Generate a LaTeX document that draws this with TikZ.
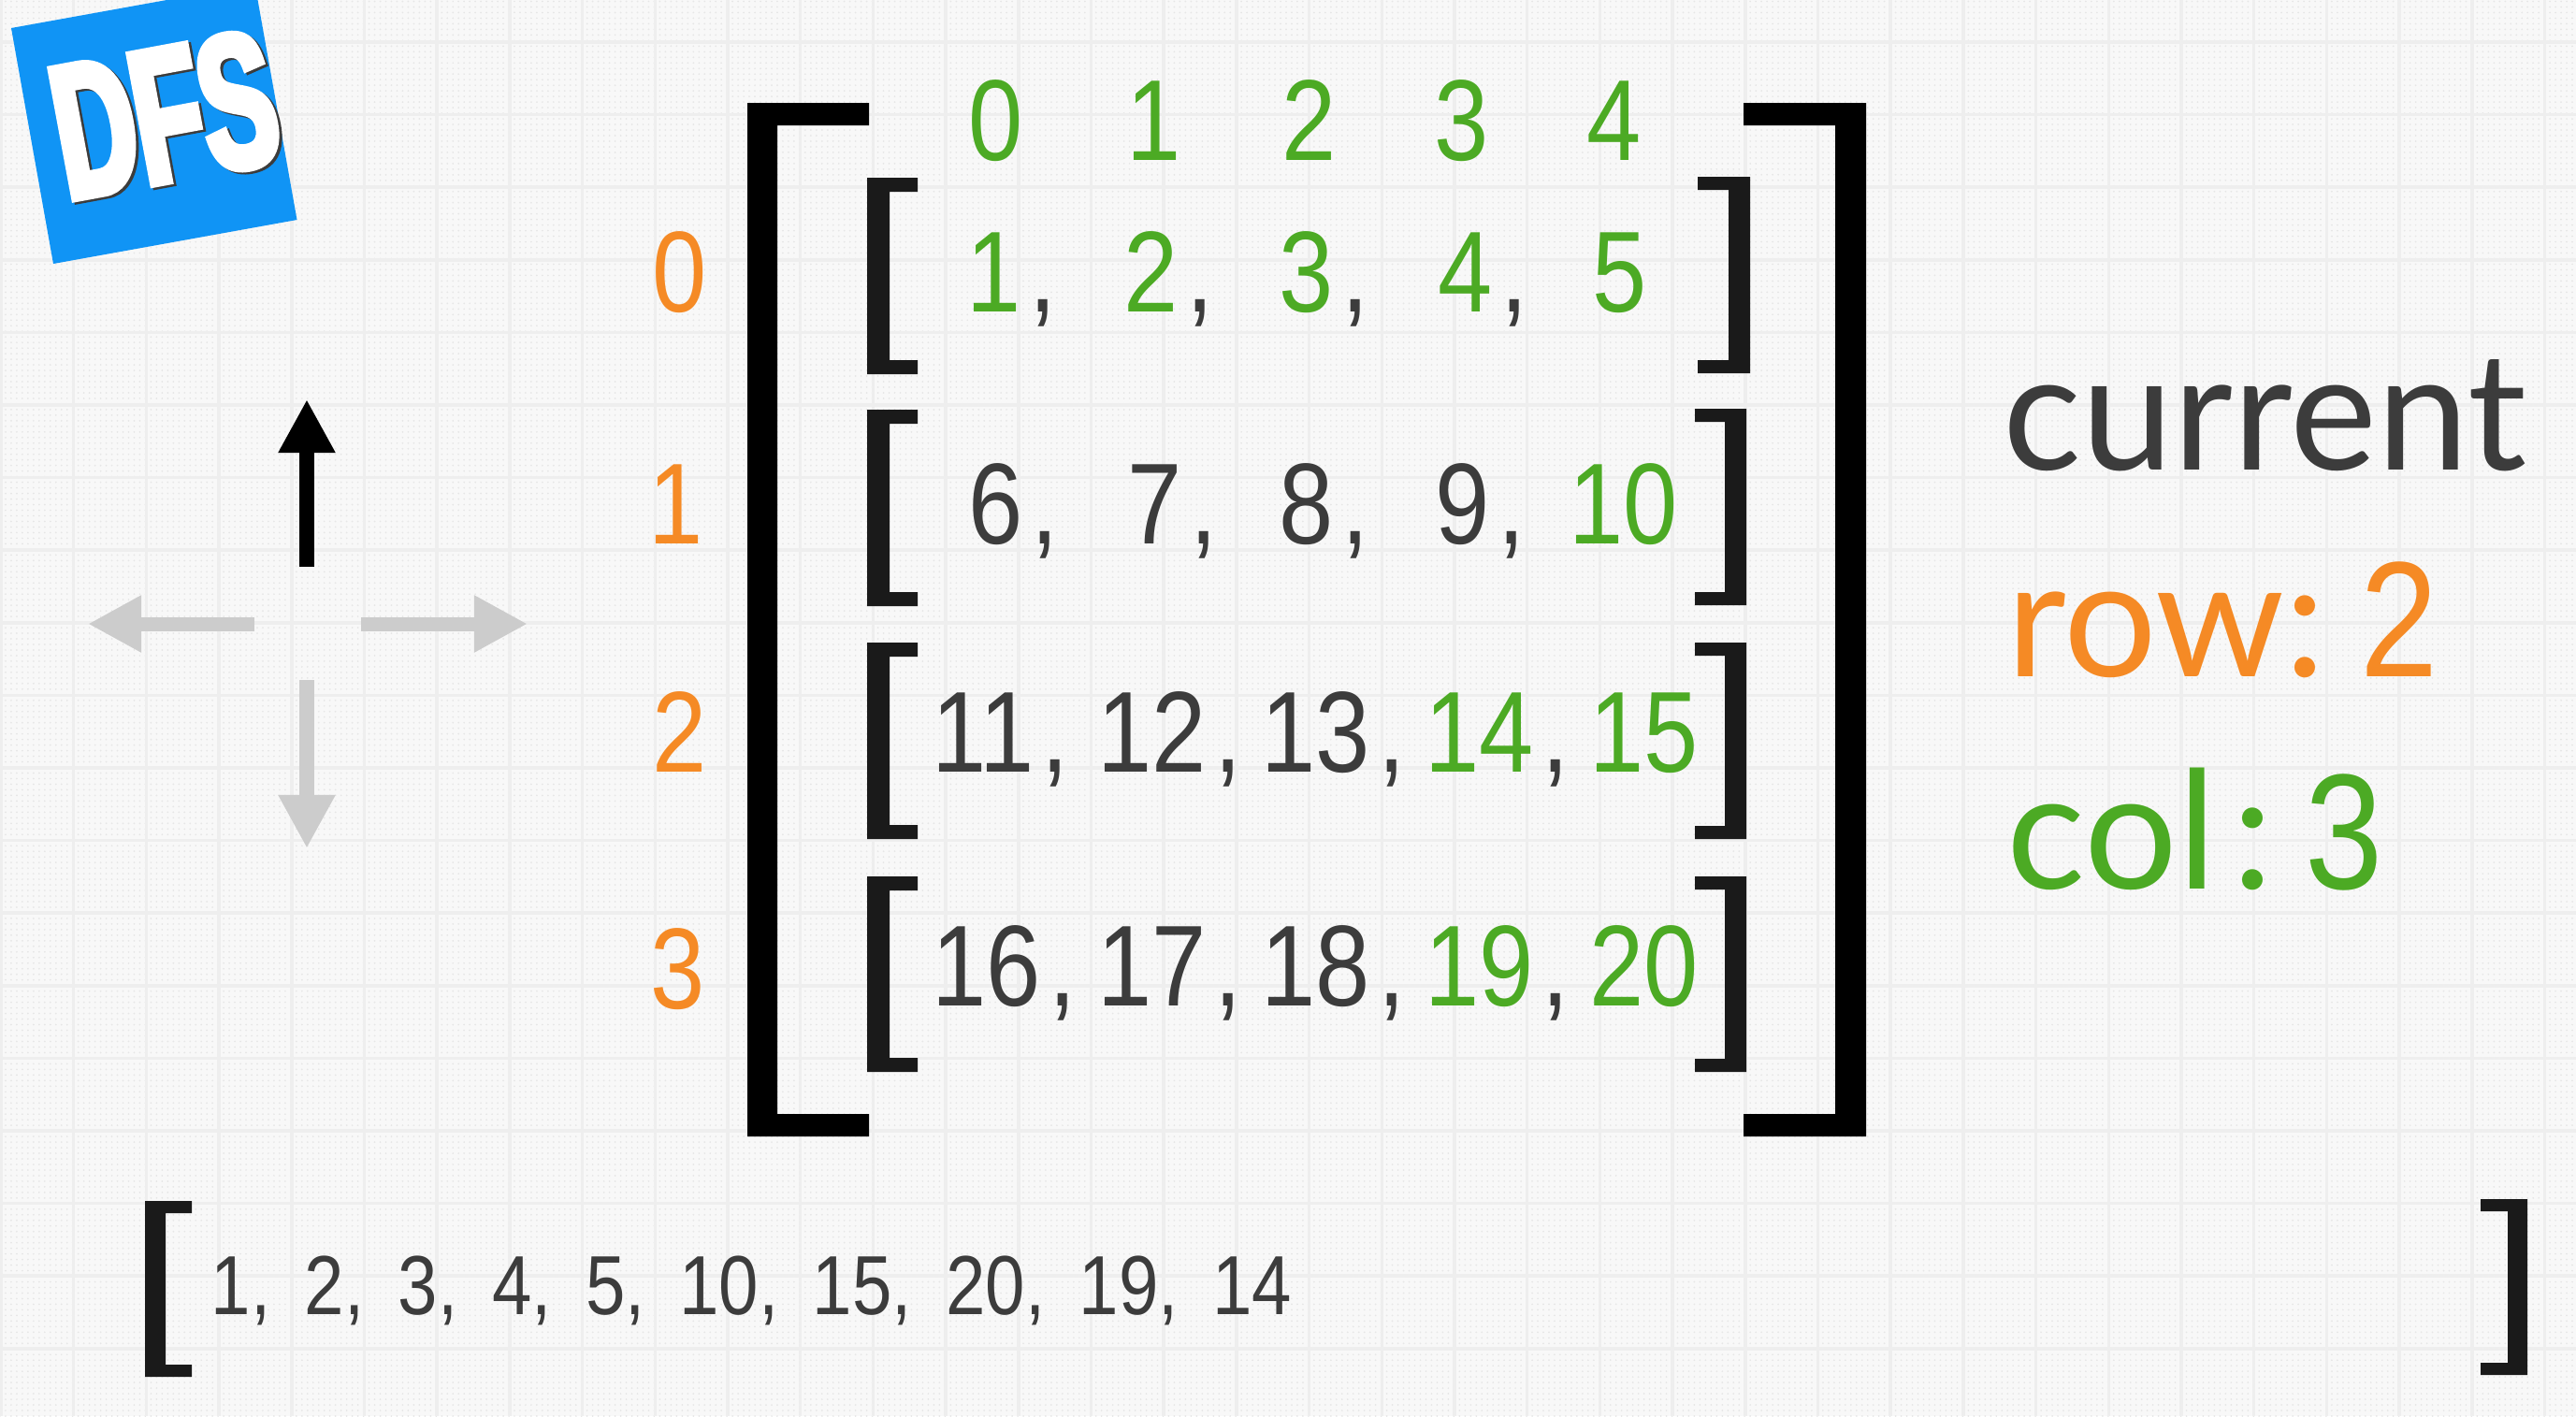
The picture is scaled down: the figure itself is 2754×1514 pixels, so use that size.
\documentclass[tikz,border=0pt]{standalone}
\usepackage{fontspec}
\setmainfont{Lato}
\newfontfamily\digitfont[FakeStretch=0.85]{Liberation Sans}
\newfontfamily\badgefont[FakeStretch=0.58,FakeBold=4]{Liberation Sans Bold}
\usetikzlibrary{arrows.meta,positioning,patterns}
\pgfdeclarepatternformonly{griddots}{\pgfqpoint{-0.3pt}{-0.3pt}}{\pgfqpoint{0.3pt}{0.3pt}}{\pgfqpoint{1.7pt}{1.7pt}}{\pgfpathcircle{\pgfqpoint{0pt}{0pt}}{0.28pt}\pgfusepath{fill}}
\definecolor{pagegray}{HTML}{F8F8F8}
\definecolor{dotgray}{HTML}{E6E6E6}
\definecolor{gridgray}{HTML}{EEEEEE}
\definecolor{numgreen}{HTML}{4CAA24}
\definecolor{numorange}{HTML}{F58A25}
\definecolor{numdark}{HTML}{3C3C3C}
\definecolor{badgeblue}{HTML}{1094F5}
\definecolor{dimarrow}{HTML}{CCCCCC}
\definecolor{brkdark}{HTML}{1A1A1A}
% x, top, bottom, signed width, signed upright thickness, bar thickness
\newcommand{\sqbrk}[7][black]{\fill[#1] (#2,#3) -- ({#2+#5},#3) -- ({#2+#5},{#3+#7}) -- ({#2+#6},{#3+#7}) -- ({#2+#6},{#4-#7}) -- ({#2+#5},{#4-#7}) -- ({#2+#5},#4) -- (#2,#4) -- cycle;}
\newcommand{\cma}{\hspace{0.07em}\textcolor{numdark}{,}}
\newcommand{\gap}{\hspace{10.4pt}}
\begin{document}
\begin{tikzpicture}[x=0.01cm, y=-0.01cm, >=Stealth,
 num/.style={font=\digitfont\fontsize{35}{40}\selectfont, anchor=base, inner sep=0pt},
 idx/.style={num, text=numorange},
 cell/.style={num, anchor=base west},
 big/.style={font=\fontsize{50}{54}\selectfont, anchor=base west, inner sep=0pt},
 move/.style={line width=1.5mm, -{Triangle[length=5.7mm, width=5.7mm]}},
 seq/.style={font=\digitfont\fontsize{25.5}{30}\selectfont, anchor=base west, inner sep=0pt, text=numdark}]
\useasboundingbox (0,0) rectangle (2754,1514);
\fill[pagegray] (0,0) rectangle (2754,1514);
\fill[pattern=griddots, pattern color=dotgray] (0,0) rectangle (2754,1514);
\foreach \i in {0,...,35} \draw[gridgray, line width=0.35mm] ({1+77.7*\i},0) -- ({1+77.7*\i},1514);
\foreach \i in {0,...,19} \draw[gridgray, line width=0.35mm] (0,{45+77.6*\i}) -- (2754,{45+77.6*\i});
% badge
\fill[badgeblue] (12,30) -- (272.5,-17) -- (317.5,235) -- (57,282) -- cycle;
\node[font=\badgefont\fontsize{58}{60}\selectfont, text=numdark, rotate=10.5, inner sep=0pt] (dfsshade) at (179,125) {DFS};
\node[font=\badgefont\fontsize{58}{60}\selectfont, text=white, rotate=10.5, inner sep=0pt] (dfs) at (176,123) {DFS};
% direction arrows
\coordinate (upa) at (328,606);
\coordinate (upb) at (328,427);
\coordinate (lfa) at (272,667);
\coordinate (lfb) at (94,667);
\coordinate (rta) at (386,667);
\coordinate (rtb) at (564,667);
\coordinate (dna) at (328,727);
\coordinate (dnb) at (328,907);
\draw[move, black] (upa) -- (upb);
\draw[move, dimarrow] (lfa) -- (lfb);
\draw[move, dimarrow] (rta) -- (rtb);
\draw[move, dimarrow] (dna) -- (dnb);
% brackets
\sqbrk{799}{110}{1215}{130}{32}{24}
\sqbrk{1995}{110}{1215}{-131}{-33}{24}
\foreach \t/\b in {190/400, 438/648, 687/897, 937/1146} {
  \sqbrk[brkdark]{927}{\t}{\b}{54}{24}{15}
}
\sqbrk[brkdark]{1871}{189}{399}{-56}{-23}{14}
\foreach \t/\b in {437/647, 687/897, 937/1146} {
  \sqbrk[brkdark]{1867}{\t}{\b}{-55}{-23}{14}
}
\sqbrk[brkdark]{155}{1284}{1472}{50}{22}{13}
\sqbrk[brkdark]{2702}{1282}{1470}{-50}{-21}{13}
% indices
\foreach \i/\x/\t in {0/1065/0, 1/1234/1, 2/1400/2, 3/1563/3, 4/1726/4}
  \node[num, text=numgreen] (head\i) at (\x,171) {\t};
\foreach \i/\x/\y in {0/727/333, 1/723/581, 2/727/825, 3/725/1078}
  \node[idx] (side\i) at (\x,\y) {\i};
% rows
\foreach \i/\x/\t/\c in {0/1033/1/numgreen, 1/1201/2/numgreen, 2/1367/3/numgreen, 3/1537/4/numgreen}
  \node[cell, text=\c] (a\i) at (\x,333) {\t\cma};
\node[cell, text=numgreen] (a4) at (1702,333) {5};
\foreach \i/\x/\t in {0/1035/6, 1/1205/7, 2/1367/8, 3/1534/9}
  \node[cell, text=numdark] (b\i) at (\x,581) {\t\cma};
\node[cell, text=numgreen] (b4) at (1677,581) {10};
\foreach \i/\x/\t/\c in {0/996/11/numdark, 1/1173/12/numdark, 2/1348/13/numdark, 3/1523/14/numgreen}
  \node[cell, text=\c] (c\i) at (\x,825) {\t\cma};
\node[cell, text=numgreen] (c4) at (1699,825) {15};
\foreach \i/\x/\t/\c in {0/996/16/numdark, 1/1173/17/numdark, 2/1348/18/numdark, 3/1523/19/numgreen}
  \node[cell, text=\c] (d\i) at (\x,1075) {\t\cma};
\node[cell, text=numgreen] (d4) at (1699,1075) {20};
% right column
\node[big, text=numdark] (current) at (2141,502) {current};
\node[big, text=numorange] (rowval) at (2145,723) {row:\hspace{0.21em}{\digitfont 2}};
\node[big, text=numgreen] (colval) at (2145,950) {col\hspace{0.1em}:\hspace{0.19em}{\digitfont 3}};
% visited order
\node[seq] (visited) at (225,1405) {1,\gap 2,\gap 3,\gap 4,\gap 5,\gap 10,\gap 15,\gap 20,\gap 19,\gap 14};
\end{tikzpicture}
\end{document}
